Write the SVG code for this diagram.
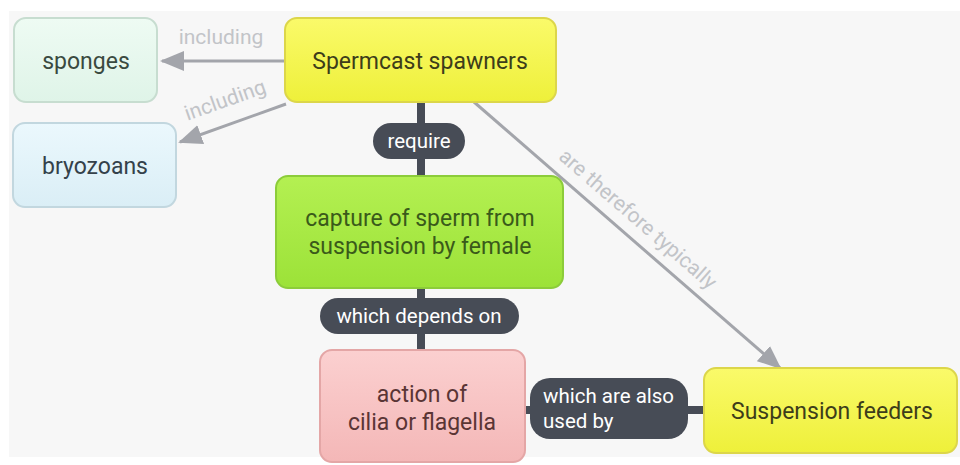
<svg xmlns="http://www.w3.org/2000/svg" width="960" height="465" viewBox="0 0 960 465">
<defs>
<linearGradient id="gYellow" x1="0" y1="0" x2="0" y2="1"><stop offset="0" stop-color="#fafa6a"/><stop offset="1" stop-color="#eef03a"/></linearGradient>
<linearGradient id="gGreen" x1="0" y1="0" x2="0" y2="1"><stop offset="0" stop-color="#b4f052"/><stop offset="1" stop-color="#9ce238"/></linearGradient>
<linearGradient id="gPink" x1="0" y1="0" x2="0" y2="1"><stop offset="0" stop-color="#fbd0d0"/><stop offset="1" stop-color="#f4b7b7"/></linearGradient>
<linearGradient id="gMint" x1="0" y1="0" x2="0" y2="1"><stop offset="0" stop-color="#eefbf3"/><stop offset="1" stop-color="#dff4e8"/></linearGradient>
<linearGradient id="gBlue" x1="0" y1="0" x2="0" y2="1"><stop offset="0" stop-color="#ebf8fd"/><stop offset="1" stop-color="#daeef6"/></linearGradient>
<marker id="arrBig" markerWidth="24" markerHeight="20" refX="22" refY="10" orient="auto" markerUnits="userSpaceOnUse" viewBox="0 0 24 20"><path d="M0,0 L24,10 L0,20 Z" fill="#a3a5ab"/></marker>
</defs>
<style>
.node rect{stroke-width:2}
.nt{font-family:Roboto,"Liberation Sans",sans-serif;font-size:23px;text-anchor:middle;dominant-baseline:central}
.lt{font-family:Roboto,"Liberation Sans",sans-serif;font-size:20.5px;fill:#ffffff;dominant-baseline:central}
.gl{font-family:Roboto,"Liberation Sans",sans-serif;font-size:21px;fill:#c2c4c8;text-anchor:middle;dominant-baseline:central}
.pill{fill:#474c56}
.thin{stroke:#a3a5ab;stroke-width:3;fill:none}
.thick{stroke:#474c56;stroke-width:8;fill:none}
</style>
<rect x="0" y="0" width="960" height="465" fill="#ffffff"/>
<rect x="9" y="11" width="951" height="446" fill="#f7f7f7"/>
<g id="connectors">
<line class="thin" x1="284" y1="61" x2="162" y2="61" marker-end="url(#arrBig)"/>
<text class="gl" x="221" y="37">including</text>
<line class="thin" x1="286" y1="104" x2="180" y2="142" marker-end="url(#arrBig)"/>
<text class="gl" x="225" y="100" transform="rotate(-19.5 225 100)">including</text>
<line class="thin" x1="474" y1="102" x2="780" y2="368" marker-end="url(#arrBig)"/>
<text class="gl" x="638" y="219" transform="rotate(41 638 219)">are therefore typically</text>
<line class="thick" x1="421" y1="102" x2="421" y2="176"/>
<rect class="pill" x="373" y="123" width="92" height="36" rx="18"/>
<text class="lt" x="419" y="141" text-anchor="middle">require</text>
<line class="thick" x1="421" y1="288" x2="421" y2="350"/>
<rect class="pill" x="320" y="298" width="199" height="36" rx="18"/>
<text class="lt" x="419" y="316" text-anchor="middle">which depends on</text>
<line class="thick" x1="525" y1="410" x2="703" y2="410"/>
<rect class="pill" x="530" y="378" width="158" height="61" rx="20"/>
<text class="lt" x="543" y="396">which are also</text>
<text class="lt" x="543" y="421">used by</text>
</g>
<g id="sponges" class="node"><rect x="14" y="18" width="143" height="84" rx="12" fill="url(#gMint)" stroke="#c7ddd0"/><text class="nt" x="86" y="61" fill="#3a4a40">sponges</text></g>
<g id="bryozoans" class="node"><rect x="13" y="123" width="163" height="84" rx="12" fill="url(#gBlue)" stroke="#c2d7df"/><text class="nt" x="95" y="166" fill="#34414a">bryozoans</text></g>
<g id="spermcast" class="node"><rect x="285" y="18" width="271" height="84" rx="12" fill="url(#gYellow)" stroke="#dcd64a"/><text class="nt" x="420" y="61" fill="#3d3d1a">Spermcast spawners</text></g>
<g id="capture" class="node"><rect x="276" y="176" width="287" height="112" rx="12" fill="url(#gGreen)" stroke="#8ccc3a"/><text class="nt" x="420" y="218" fill="#3a5a1a">capture of sperm from</text><text class="nt" x="420" y="246" fill="#3a5a1a">suspension by female</text></g>
<g id="action" class="node"><rect x="320" y="350" width="205" height="112" rx="12" fill="url(#gPink)" stroke="#e4a6a6"/><text class="nt" x="422" y="394" fill="#5a3535">action of</text><text class="nt" x="422" y="422" fill="#5a3535">cilia or flagella</text></g>
<g id="suspension" class="node"><rect x="704" y="368" width="253" height="85" rx="12" fill="url(#gYellow)" stroke="#dcd64a"/><text class="nt" x="832" y="411" fill="#3d3d1a">Suspension feeders</text></g>
</svg>
